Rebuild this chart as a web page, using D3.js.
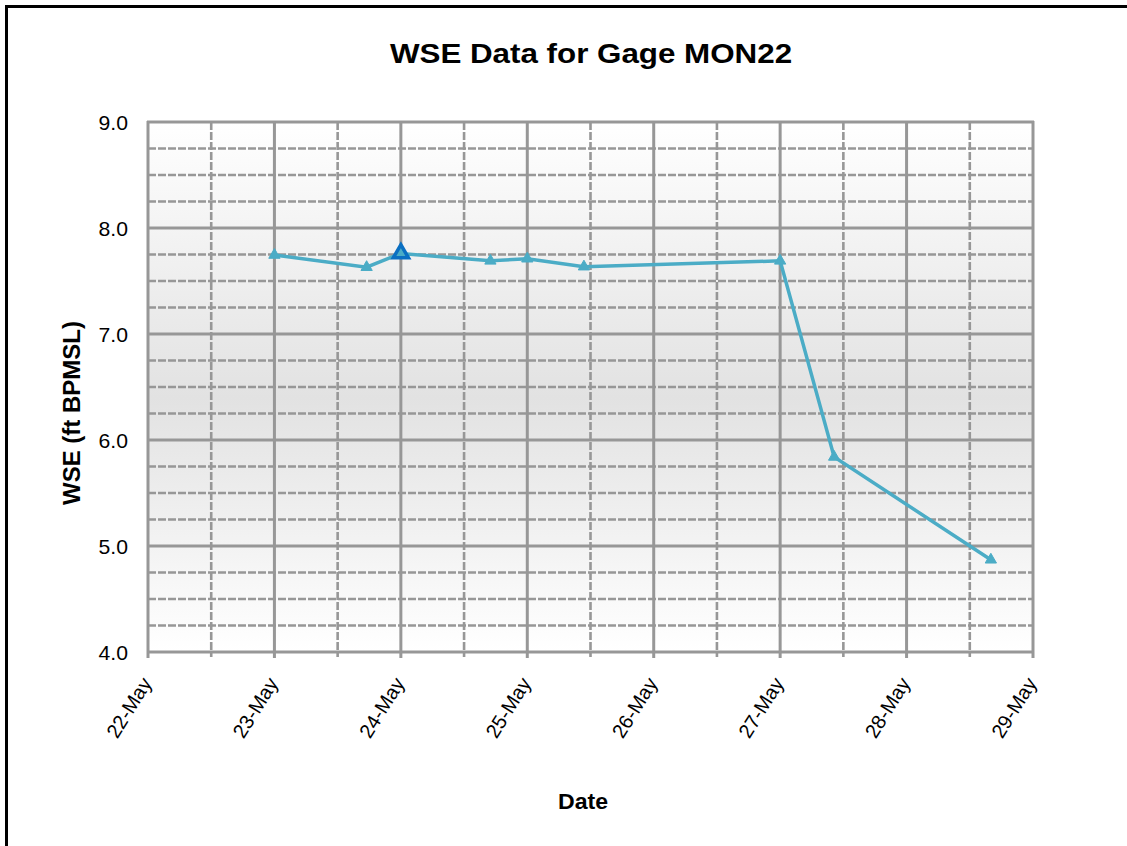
<!DOCTYPE html>
<html>
<head>
<meta charset="utf-8">
<script src="https://cdn.jsdelivr.net/npm/d3@7"></script>
<style>
  html, body { margin: 0; background: #fff; overflow: hidden; }
  svg { display: block; }
  text { font-family: "Liberation Sans", Arial, sans-serif; }
</style>
</head>
<body>
<div id="chart"></div>
<script>
// WSE readings for gage MON22
const readTimes = ["2010-05-23T00:00", "2010-05-23T17:30", "2010-05-24T00:00", "2010-05-24T17:00",
                   "2010-05-25T00:00", "2010-05-25T10:45", "2010-05-27T00:00", "2010-05-27T10:15",
                   "2010-05-28T16:00"];
const wseValues = [7.745, 7.63, 7.76, 7.69, 7.71, 7.635, 7.69, 5.84, 4.87];
const highlightIndex = 2;   // point drawn with the dark outline
const yTickValues = [4.0, 5.0, 6.0, 7.0, 8.0, 9.0];
const xStart = "2010-05-22T00:00";
const xEnd = "2010-05-29T00:00";

const parseTime = d3.timeParse("%Y-%m-%dT%H:%M");
const data = readTimes.map((t, i) => ({ date: parseTime(t), value: wseValues[i] }));

const width = 1127, height = 846;
const margin = { left: 148, right: 1127 - 1033, top: 122, bottom: 846 - 652 };
const gridColor = "#979797";
const lineColor = "#4bacc6";

const svg = d3.select("#chart").append("svg")
    .attr("width", width)
    .attr("height", height);

// outer chart border: only the left and top edges are inside the picture
svg.append("path")
    .attr("d", `M6.5,${height + 5}V6.5H${width + 5}`)
    .attr("fill", "none")
    .attr("stroke", "#000")
    .attr("stroke-width", 3);

const x = d3.scaleTime()
    .domain([parseTime(xStart), parseTime(xEnd)])
    .range([margin.left, width - margin.right]);
const y = d3.scaleLinear()
    .domain([4, 9])
    .range([height - margin.bottom, margin.top]);

// plot area background gradient
const grad = svg.append("defs").append("linearGradient")
    .attr("id", "plotBg")
    .attr("x1", 0).attr("y1", 0).attr("x2", 0).attr("y2", 1);
grad.append("stop").attr("offset", "0%").attr("stop-color", "#ffffff");
grad.append("stop").attr("offset", "52%").attr("stop-color", "#e2e2e2");
grad.append("stop").attr("offset", "100%").attr("stop-color", "#ffffff");

svg.append("rect")
    .attr("x", x.range()[0]).attr("y", y.range()[1])
    .attr("width", x.range()[1] - x.range()[0])
    .attr("height", y.range()[0] - y.range()[1])
    .attr("fill", "url(#plotBg)");

// grid lines: quarter units dashed, whole units solid
const yMinor = d3.range(4, 9.001, 0.25).filter(v => Math.abs(v - Math.round(v)) > 0.01);
svg.append("g").selectAll("line")
    .data(yMinor)
    .enter().append("line")
    .attr("x1", x.range()[0]).attr("x2", x.range()[1])
    .attr("y1", d => y(d)).attr("y2", d => y(d))
    .attr("stroke", gridColor)
    .attr("stroke-width", 2.6)
    .attr("stroke-dasharray", "8,2");

const halfDays = d3.timeHour.every(12).range(x.domain()[0], d3.timeHour.offset(x.domain()[1], 1));
svg.append("g").selectAll("line")
    .data(halfDays.filter(d => d.getHours() === 12))
    .enter().append("line")
    .attr("x1", d => x(d)).attr("x2", d => x(d))
    .attr("y1", y.range()[1]).attr("y2", y.range()[0] + 5)
    .attr("stroke", gridColor)
    .attr("stroke-width", 2.6)
    .attr("stroke-dasharray", "8,2");

svg.append("g").selectAll("line")
    .data(yTickValues)
    .enter().append("line")
    .attr("x1", x.range()[0] - 1).attr("x2", x.range()[1] + 1)
    .attr("y1", d => y(d)).attr("y2", d => y(d))
    .attr("stroke", gridColor)
    .attr("stroke-width", 3);

svg.append("g").selectAll("line")
    .data(halfDays.filter(d => d.getHours() === 0))
    .enter().append("line")
    .attr("x1", d => x(d)).attr("x2", d => x(d))
    .attr("y1", y.range()[1] - 1).attr("y2", y.range()[0] + 6)
    .attr("stroke", gridColor)
    .attr("stroke-width", 3);

// axes (labels only, lines are drawn above)
const yAxis = svg.append("g")
    .attr("transform", `translate(${margin.left},0)`)
    .call(d3.axisLeft(y).tickValues(yTickValues).tickFormat(d3.format(".1f")).tickSize(0).tickPadding(20));
yAxis.select(".domain").remove();
yAxis.selectAll("text")
    .attr("x", 0).attr("dy", null)
    .attr("transform", "translate(-20,7) scale(1.06,1)")
    .style("font-size", "20px")
    .attr("fill", "#000");

const xAxis = svg.append("g")
    .attr("transform", `translate(0,${height - margin.bottom})`)
    .call(d3.axisBottom(x).ticks(d3.timeDay.every(1)).tickFormat(d3.timeFormat("%-d-%b")).tickSize(0));
xAxis.select(".domain").remove();
xAxis.selectAll("text")
    .attr("x", 0).attr("y", 0).attr("dy", null)
    .attr("text-anchor", "end")
    .attr("transform", "translate(4,31) rotate(-58)")
    .style("font-size", "20px")
    .attr("fill", "#000");

// series line + markers
const line = d3.line()
    .x(d => x(d.date))
    .y(d => y(d.value));

svg.append("path")
    .datum(data)
    .attr("d", line)
    .attr("fill", "none")
    .attr("stroke", lineColor)
    .attr("stroke-width", 3.5);

const tri = d3.symbol().type(d3.symbolTriangle);
svg.append("g").selectAll("path")
    .data(data)
    .enter().append("path")
    .attr("transform", d => `translate(${x(d.date)},${y(d.value)})`)
    .attr("d", (d, i) => tri.size(i === highlightIndex ? 100 : 55)())
    .attr("fill", lineColor)
    .attr("stroke", (d, i) => i === highlightIndex ? "#0a6fc2" : lineColor)
    .attr("stroke-width", (d, i) => i === highlightIndex ? 3.5 : 1);

// titles
svg.append("text")
    .attr("transform", "translate(591,63) scale(1.1,1)")
    .attr("text-anchor", "middle")
    .style("font-size", "28.5px")
    .style("font-weight", "bold")
    .text("WSE Data for Gage MON22");

svg.append("text")
    .attr("transform", "translate(80,413) rotate(-90)")
    .attr("text-anchor", "middle")
    .style("font-size", "24px")
    .style("font-weight", "bold")
    .text("WSE (ft BPMSL)");

svg.append("text")
    .attr("transform", "translate(583,809) scale(1.05,1)")
    .attr("text-anchor", "middle")
    .style("font-size", "22px")
    .style("font-weight", "bold")
    .text("Date");
</script>
</body>
</html>
